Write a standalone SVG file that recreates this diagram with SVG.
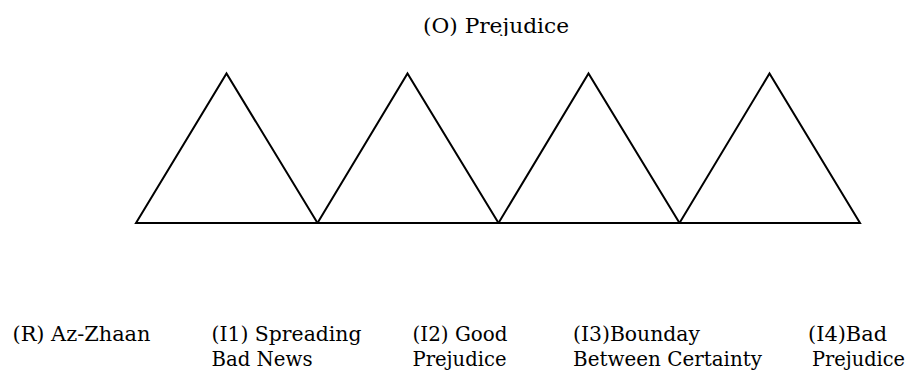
<svg xmlns="http://www.w3.org/2000/svg" width="907" height="374" viewBox="0 0 907 374">
<style>
.tri{fill:none;stroke:#000;stroke-width:2;stroke-linejoin:miter}
.t{font-family:"DejaVu Serif","Liberation Serif",serif;font-size:19.5px;fill:#000}
</style>
<defs><clipPath id="c"><rect x="0" y="0" width="907" height="36"/></clipPath></defs>
<rect width="907" height="374" fill="#fff"/>
<g id="title"><text class="t" x="423" y="33" textLength="146" lengthAdjust="spacingAndGlyphs" clip-path="url(#c)">(O) Prejudice</text></g>
<g id="tri1"><polygon class="tri" points="136,223 226.5,73.5 317.5,223"/></g>
<g id="tri2"><polygon class="tri" points="317.5,223 407.5,73.5 498.5,223"/></g>
<g id="tri3"><polygon class="tri" points="498.5,223 588.5,73.5 679.5,223"/></g>
<g id="tri4"><polygon class="tri" points="679.5,223 769.5,73.5 860,223"/></g>
<g id="connectors"/>
<g id="R"><text class="t" x="12.5" y="341" textLength="138" lengthAdjust="spacingAndGlyphs">(R) Az-Zhaan</text></g>
<g id="I1"><text class="t" x="211.5" y="341" textLength="150" lengthAdjust="spacingAndGlyphs">(I1) Spreading</text><text class="t" x="211.5" y="366" textLength="101" lengthAdjust="spacingAndGlyphs">Bad News</text></g>
<g id="I2"><text class="t" x="412.5" y="341" textLength="95" lengthAdjust="spacingAndGlyphs">(I2) Good</text><text class="t" x="412.5" y="366" textLength="94" lengthAdjust="spacingAndGlyphs">Prejudice</text></g>
<g id="I3"><text class="t" x="573" y="341" textLength="127" lengthAdjust="spacingAndGlyphs">(I3)Bounday</text><text class="t" x="573" y="366" textLength="189" lengthAdjust="spacingAndGlyphs">Between Certainty</text></g>
<g id="I4"><text class="t" x="808" y="341" textLength="79" lengthAdjust="spacingAndGlyphs">(I4)Bad</text><text class="t" x="812" y="366" textLength="93" lengthAdjust="spacingAndGlyphs">Prejudice</text></g>
</svg>
